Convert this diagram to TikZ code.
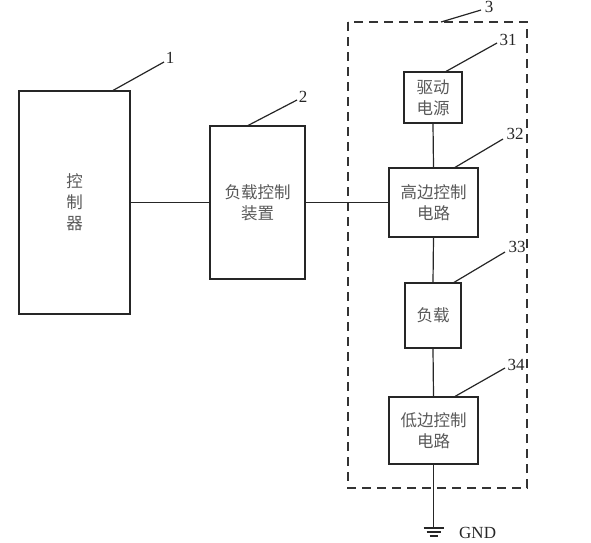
\documentclass[tikz,border=0pt]{standalone}
\usepackage{fontspec}
\setmainfont{Liberation Serif}
\newfontfamily\cjk{Noto Sans CJK SC}
\begin{document}
\begin{tikzpicture}[x=1pt,y=-1pt,
  blk/.style={draw=black!85,line width=1.3pt,fill=white,inner sep=0pt,align=center,font=\cjk\fontsize{16.5}{21}\selectfont,text=black!65},
  wire/.style={draw=black!85,line width=1.2pt},
  lead/.style={draw=black!85,line width=1.2pt},
  num/.style={font=\fontsize{17}{17}\selectfont,inner sep=0pt,text=black!85}]
\useasboundingbox (0,0) rectangle (591,542);
% dashed group
\draw[black!80,line width=1.4pt,dash pattern=on 9pt off 6pt] (348,22) rectangle (527,488);
% boxes
\node[blk,minimum width=111pt,minimum height=223pt] (ctl) at (74.5,202.5) {控\\制\\器};
\node[blk,minimum width=95pt,minimum height=153pt] (dev) at (257.5,202.5) {负载控制\\装置};
\node[blk,minimum width=58pt,minimum height=51pt] (drv) at (433,97.5) {驱动\\电源};
\node[blk,minimum width=89pt,minimum height=69pt] (hs) at (433.5,202.5) {高边控制\\电路};
\node[blk,minimum width=56pt,minimum height=65pt] (load) at (433,315.5) {负载};
\node[blk,minimum width=89pt,minimum height=67pt] (ls) at (433.5,430.5) {低边控制\\电路};
% wires
\draw[wire] (ctl.east) -- (dev.west);
\draw[wire] (dev.east) -- (hs.west);
\draw[wire] (drv.south) -- (hs.north);
\draw[wire] (hs.south) -- (load.north);
\draw[wire] (load.south) -- (ls.north);
\coordinate (g) at (433.5,528);
\draw[wire] (ls.south) -- (g);
\draw[wire] (423.5,528) -- (443.5,528) (426.5,532) -- (440.5,532) (429.5,536) -- (437.5,536);
\node[font=\fontsize{17}{17}\selectfont,anchor=west,inner sep=0pt,text=black!85] (gnd) at (459,533) {GND};
% labels
\node[num] (n1) at (170,58) {1};
\draw[lead] (112,91) -- (164,62);
\node[num] (n2) at (303,97) {2};
\draw[lead] (247,126) -- (297,100);
\node[num] (n3) at (489,7) {3};
\draw[lead] (441,22) -- (481,10);
\node[num] (n31) at (508,40) {31};
\draw[lead] (445,72) -- (497,43);
\node[num] (n32) at (515,134) {32};
\draw[lead] (454,168) -- (503,139);
\node[num] (n33) at (517,247) {33};
\draw[lead] (453,283) -- (505,252);
\node[num] (n34) at (516,365) {34};
\draw[lead] (454,397) -- (505,368);
\end{tikzpicture}
\end{document}
